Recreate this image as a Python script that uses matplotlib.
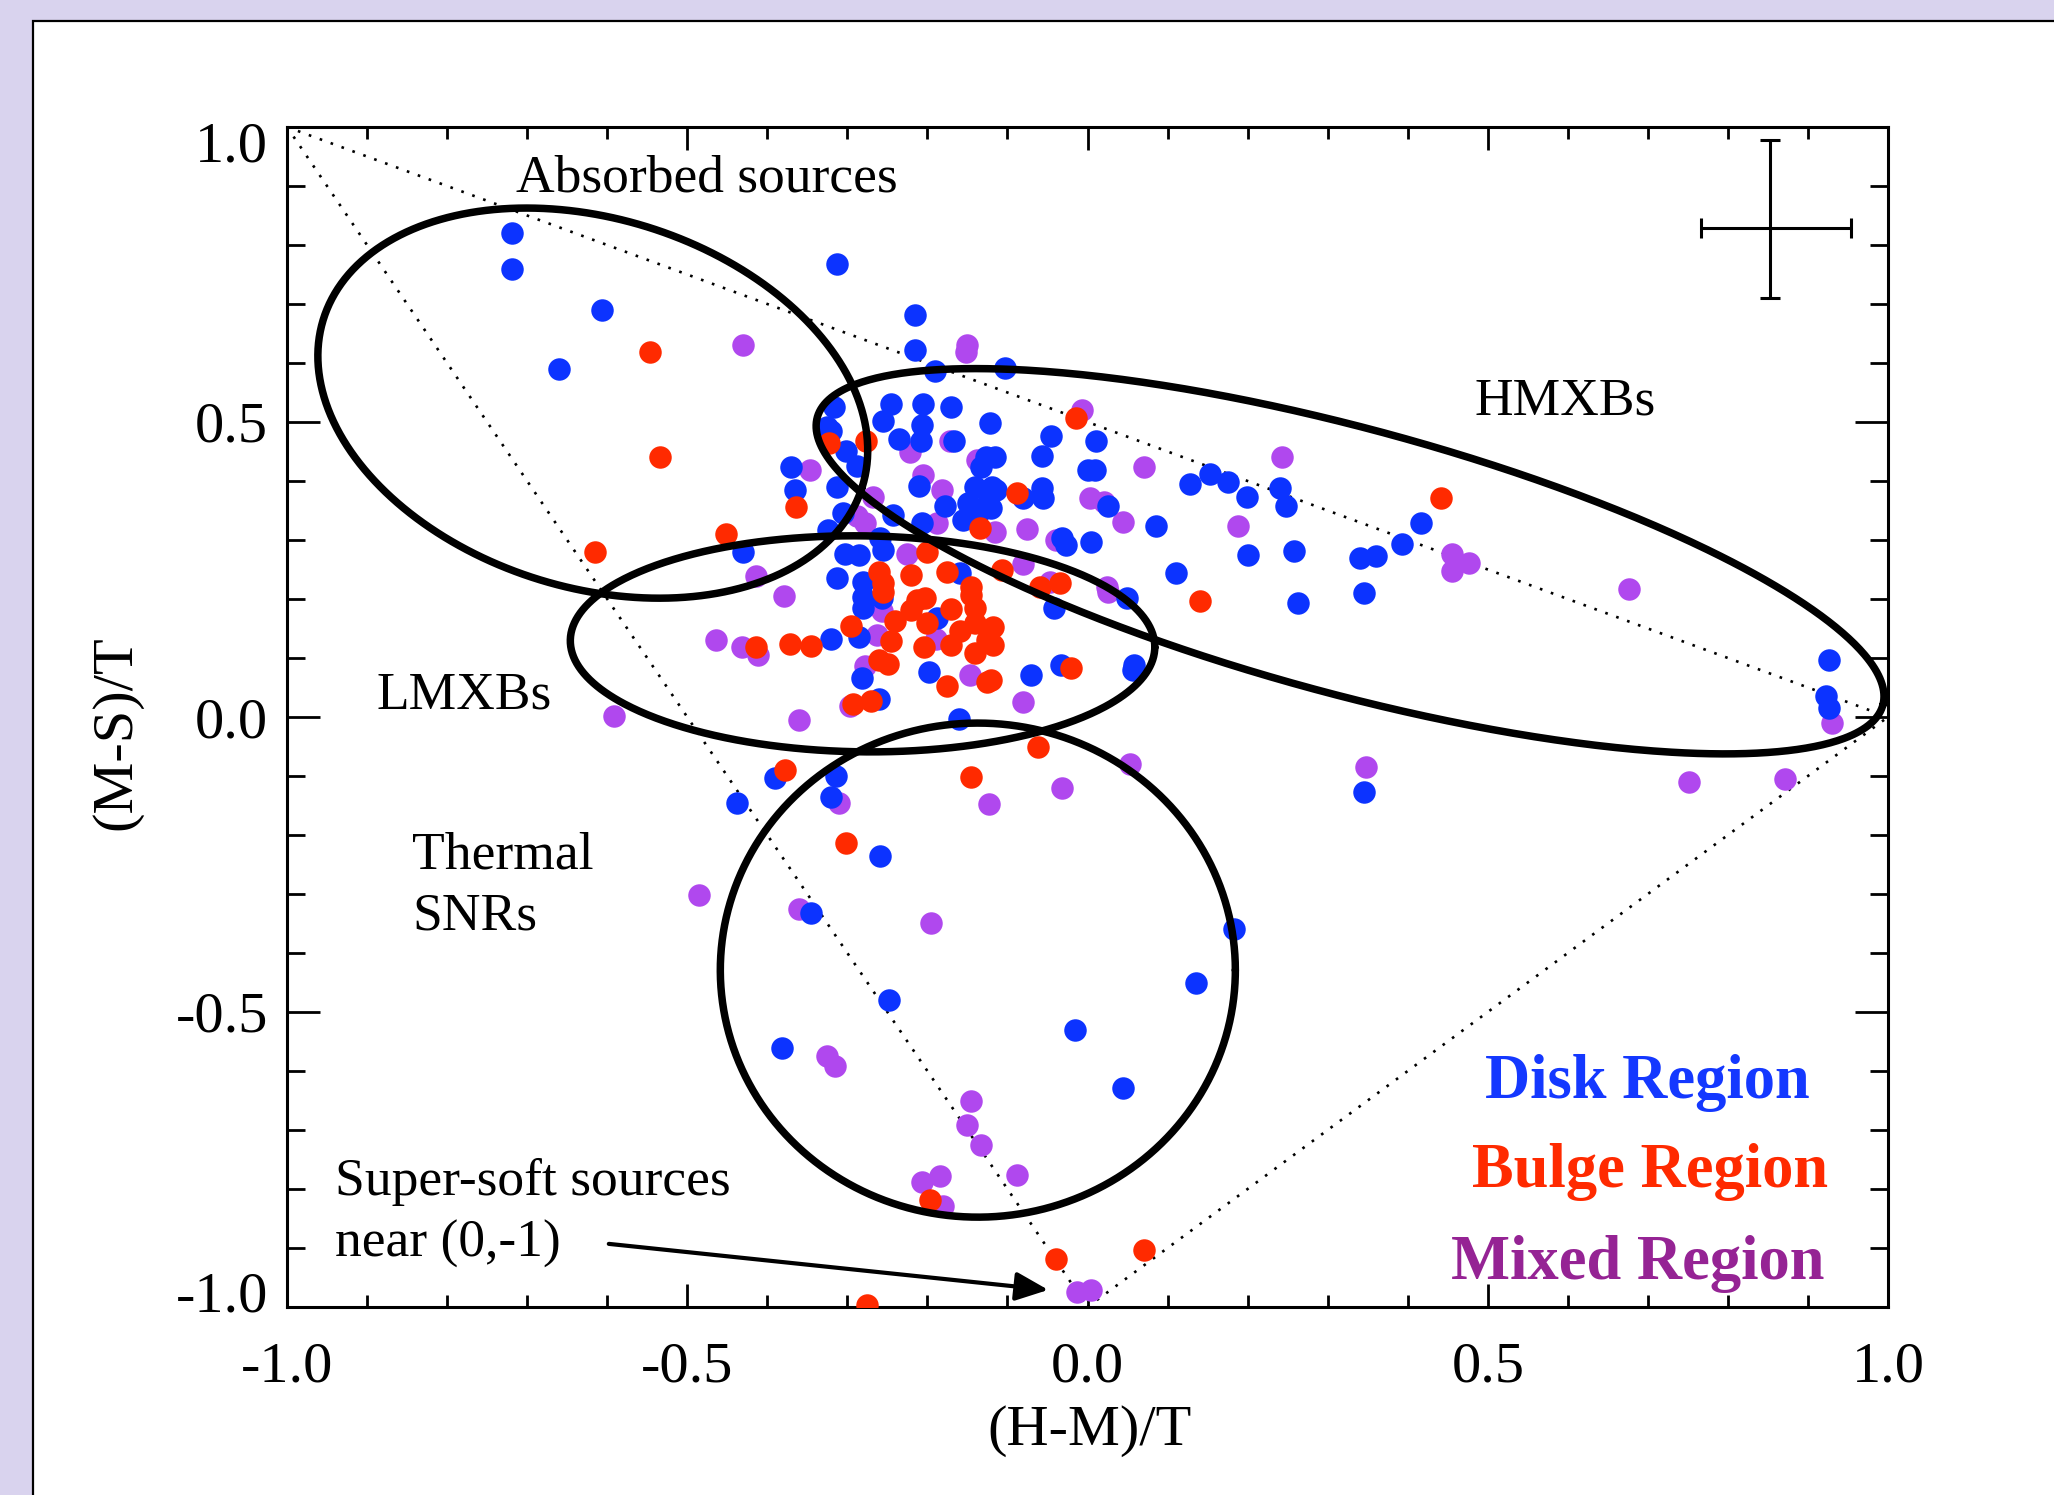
import numpy as np
import matplotlib
matplotlib.use("Agg")
import matplotlib.pyplot as plt
from matplotlib.patches import Rectangle
from matplotlib.transforms import ScaledTranslation

plt.rcParams['axes.unicode_minus'] = False
SERIF = ['Liberation Serif', 'DejaVu Serif']

# ---------------- data (hardness ratios) ----------------
disk_x = [-0.719, -0.719, -0.607, -0.660, -0.313, -0.215, -0.215, -0.190, -0.103, -0.317,
          -0.326, -0.320, -0.302, -0.288, -0.370, -0.366, -0.313, -0.245, -0.255, -0.206,
          -0.170, -0.207, -0.235, -0.208, -0.167, -0.122, -0.210, -0.178, -0.141, -0.119,
          -0.149, -0.124, -0.136, -0.155, -0.127, -0.116, -0.133, -0.305, -0.243, -0.207,
          -0.324, -0.430, -0.303, -0.286, -0.255, -0.259, -0.159, -0.313, -0.280, -0.046,
          0.011, -0.057, 0.001, 0.009, 0.128, 0.153, 0.176, 0.199, -0.057, -0.055,
          -0.080, -0.114, -0.120, 0.026, 0.085, -0.032, -0.027, 0.004, 0.201, 0.111,
          -0.280, -0.280, -0.257, -0.286, -0.320, -0.282, -0.261, -0.160, -0.391, -0.314,
          -0.438, -0.321, -0.259, -0.345, -0.248, -0.382, -0.015, 0.044, 0.136, 0.183,
          -0.188, -0.198, -0.042, -0.070, -0.033, 0.057, 0.058, 0.049, 0.263, 0.345,
          0.248, 0.240, 0.258, 0.341, 0.360, 0.393, 0.416, 0.345, 0.926, 0.923, 0.926]
disk_y = [0.820, 0.759, 0.689, 0.590, 0.767, 0.681, 0.622, 0.586, 0.591, 0.525,
          0.492, 0.484, 0.451, 0.425, 0.423, 0.385, 0.390, 0.531, 0.501, 0.531,
          0.526, 0.495, 0.471, 0.467, 0.467, 0.498, 0.392, 0.357, 0.390, 0.390,
          0.362, 0.365, 0.348, 0.334, 0.441, 0.441, 0.424, 0.345, 0.342, 0.328,
          0.317, 0.280, 0.277, 0.275, 0.283, 0.303, 0.244, 0.235, 0.229, 0.476,
          0.467, 0.442, 0.419, 0.419, 0.395, 0.412, 0.399, 0.373, 0.388, 0.372,
          0.371, 0.385, 0.354, 0.357, 0.324, 0.303, 0.292, 0.297, 0.275, 0.244,
          0.204, 0.184, 0.201, 0.136, 0.132, 0.066, 0.030, -0.004, -0.104, -0.100,
          -0.146, -0.136, -0.236, -0.332, -0.480, -0.561, -0.531, -0.629, -0.450, -0.359,
          0.167, 0.076, 0.184, 0.071, 0.088, 0.080, 0.088, 0.201, 0.193, 0.210,
          0.358, 0.388, 0.282, 0.269, 0.273, 0.293, 0.328, -0.127, 0.096, 0.035, 0.016]

bulge_x = [-0.546, -0.534, -0.615, -0.452, -0.364, -0.323, -0.277, -0.134, -0.014, -0.088,
           0.442, 0.141, -0.201, -0.176, -0.261, -0.220, -0.255, -0.145, -0.107, -0.059,
           -0.034, -0.255, -0.241, -0.296, -0.246, -0.345, -0.372, -0.414, -0.261, -0.249,
           -0.293, -0.271, -0.378, -0.146, -0.213, -0.203, -0.220, -0.201, -0.171, -0.145,
           -0.141, -0.141, -0.159, -0.204, -0.171, -0.141, -0.126, -0.176, -0.126, -0.118,
           -0.118, -0.120, -0.020, -0.062, -0.302, -0.197, -0.039, 0.071, -0.275]
bulge_y = [0.619, 0.440, 0.280, 0.311, 0.356, 0.465, 0.467, 0.320, 0.506, 0.379,
           0.372, 0.196, 0.280, 0.246, 0.246, 0.241, 0.227, 0.221, 0.250, 0.221,
           0.227, 0.212, 0.163, 0.154, 0.128, 0.120, 0.123, 0.118, 0.097, 0.090,
           0.022, 0.027, -0.089, -0.102, 0.198, 0.201, 0.181, 0.159, 0.183, 0.207,
           0.184, 0.160, 0.146, 0.118, 0.122, 0.109, 0.131, 0.053, 0.060, 0.153,
           0.122, 0.063, 0.083, -0.050, -0.214, -0.819, -0.919, -0.903, -0.996]

mixed_x = [-0.430, -0.151, -0.152, -0.007, 0.070, 0.243, 0.188, 0.455, 0.476, 0.455,
           0.676, 0.930, 0.751, 0.871, 0.348, 0.053, -0.032, -0.123, -0.310, -0.591,
           -0.360, -0.485, -0.361, -0.196, -0.325, -0.316, -0.146, -0.150, -0.133, -0.088,
           -0.184, -0.207, -0.181, -0.013, 0.004, -0.464, -0.432, -0.412, -0.414, -0.379,
           -0.347, -0.222, -0.172, -0.205, -0.182, -0.268, -0.278, -0.288, -0.226, -0.188,
           -0.138, 0.003, 0.020, 0.044, -0.075, -0.116, -0.039, -0.080, 0.024, -0.047,
           0.025, -0.257, -0.263, -0.278, -0.297, -0.189, -0.147, -0.081]
mixed_y = [0.631, 0.631, 0.618, 0.520, 0.424, 0.440, 0.324, 0.277, 0.261, 0.248,
           0.217, -0.011, -0.111, -0.105, -0.084, -0.079, -0.121, -0.147, -0.146, 0.002,
           -0.005, -0.301, -0.326, -0.349, -0.575, -0.592, -0.650, -0.692, -0.726, -0.776,
           -0.778, -0.788, -0.828, -0.975, -0.971, 0.131, 0.119, 0.105, 0.239, 0.205,
           0.418, 0.450, 0.467, 0.410, 0.385, 0.373, 0.328, 0.340, 0.277, 0.328,
           0.436, 0.371, 0.365, 0.331, 0.318, 0.314, 0.300, 0.259, 0.221, 0.229,
           0.212, 0.179, 0.139, 0.086, 0.018, 0.133, 0.071, 0.026]

# region outlines: centre (x, y), semi-axes (in x-data units), tilt (deg)
regions = {
    'absorbed': dict(cx=-0.618, cy=0.532, a=0.3525, b=0.2304, ang=-17.3),
    'hmxb':     dict(cx=0.328, cy=0.264, a=0.6894, b=0.1659, ang=-15.1),
    'lmxb':     dict(cx=-0.281, cy=0.124, a=0.3651, b=0.1349, ang=-0.7),
    'snr':      dict(cx=-0.137, cy=-0.429, a=0.3217, b=0.3086, ang=0.0),
}

# typical error bar: position and (lower, upper) errors
err_x, err_y = 0.852, 0.829
err_xlo, err_xhi = 0.086, 0.102
err_ylo, err_yhi = 0.119, 0.149

xticks = [-1.0, -0.5, 0.0, 0.5, 1.0]
yticks = [-1.0, -0.5, 0.0, 0.5, 1.0]
tick_labels = ['-1.0', '-0.5', '0.0', '0.5', '1.0']

# ---------------- figure ----------------
W, H = 2054, 1495
fig = plt.figure(figsize=(W / 100, H / 100), dpi=100)
fig.patch.set_facecolor('#d9d3ee')
panel = Rectangle((33 / W, -0.05), 1.2, 1.05 - 21 / H, transform=fig.transFigure,
                  facecolor='white', edgecolor='black', lw=1.6, zorder=-10)
fig.patches.append(panel)

L, R, T, B = 287, 1888, 127, 1307
ax = fig.add_axes([L / W, 1 - B / H, (R - L) / W, (B - T) / H])
ax.set_facecolor('none')
ax.set_xlim(-1, 1)
ax.set_ylim(-1, 1)
for s in ax.spines.values():
    s.set_linewidth(2.2)

ax.set_xticks(xticks)
ax.set_yticks(yticks)
ax.set_xticks(np.arange(-1, 1.001, 0.1), minor=True)
ax.set_yticks(np.arange(-1, 1.001, 0.1), minor=True)
ax.tick_params(which='both', direction='in', top=True, right=True,
               labelbottom=False, labelleft=False, width=2)
ax.tick_params(axis='x', which='major', length=16.5)
ax.tick_params(axis='x', which='minor', length=8.6)
ax.tick_params(axis='y', which='major', length=23.8)
ax.tick_params(axis='y', which='minor', length=13)

TFS = 42
# tick labels
for v, lab in zip(xticks, tick_labels):
    ax.text(v, 0, lab, transform=ax.get_xaxis_transform() +
            ScaledTranslation(0, -0.345, fig.dpi_scale_trans),
            ha='center', va='top', fontsize=TFS, family=SERIF)
for v, lab in zip(yticks, tick_labels):
    dy = 0.0
    if v == 1.0:
        dy = -0.15
    elif v == -1.0:
        dy = 0.16
    ax.text(0, v, lab, transform=ax.get_yaxis_transform() +
            ScaledTranslation(-0.19, dy, fig.dpi_scale_trans),
            ha='right', va='center_baseline', fontsize=TFS, family=SERIF)

fig.text(1089.5 / W, 1 - 1431 / H, '(H-M)/T', ha='center', va='center',
         fontsize=TFS, family=SERIF)
fig.text(116 / W, 1 - 733 / H, '(M-S)/T', ha='center', va='center', rotation=90,
         fontsize=TFS, family=SERIF)

# dotted boundary triangle
dot = dict(color='black', lw=1.9, linestyle=(0, (1, 3.4)), zorder=1)
ax.plot([-1, 1], [1, 0], **dot)
ax.plot([-1, 0], [1, -1], **dot)
ax.plot([0, 1], [-1, 0], **dot)

# points
ms = 262
ax.scatter(mixed_x, mixed_y, s=ms, color='#b048ee', linewidths=0, zorder=2)
ax.scatter(disk_x, disk_y, s=ms, color='#0c33ff', linewidths=0, zorder=3)
ax.scatter(bulge_x, bulge_y, s=ms, color='#ff2a00', linewidths=0, zorder=4)

# ellipses
pos = ax.get_position()
ratio = (pos.width * W / 2) / (pos.height * H / 2)
t = np.linspace(0, 2 * np.pi, 600)
for r in regions.values():
    th = np.radians(r['ang'])
    u = r['a'] * np.cos(t) * np.cos(th) - r['b'] * np.sin(t) * np.sin(th)
    v = r['a'] * np.cos(t) * np.sin(th) + r['b'] * np.sin(t) * np.cos(th)
    ax.plot(r['cx'] + u, r['cy'] + v * ratio, color='black', lw=5.4, zorder=6,
            solid_capstyle='round')

# typical error bar
ax.errorbar([err_x], [err_y], xerr=[[err_xlo], [err_xhi]], yerr=[[err_ylo], [err_yhi]],
            fmt='none', ecolor='black', elinewidth=2.2, capsize=7.2, capthick=2.2, zorder=7)

# labels
tkw = dict(fontsize=38.5, family=SERIF, zorder=8)
ax.text(-0.714, 0.890, 'Absorbed sources', ha='left', va='baseline', **tkw)
ax.text(0.484, 0.512, 'HMXBs', ha='left', va='baseline', **tkw)
ax.text(-0.888, 0.015, 'LMXBs', ha='left', va='baseline', **tkw)
ax.text(-0.844, -0.256, 'Thermal', ha='left', va='baseline', **tkw)
ax.text(-0.844, -0.361, 'SNRs', ha='left', va='baseline', **tkw)
ax.text(-0.940, -0.810, 'Super-soft sources', ha='left', va='baseline', **tkw)
ax.text(-0.940, -0.914, 'near (0,-1)', ha='left', va='baseline', **tkw)

ax.annotate('', xy=(-0.049, -0.971), xytext=(-0.598, -0.893),
            arrowprops=dict(arrowstyle='-|>,head_length=0.5,head_width=0.22',
                            color='black', lw=3, mutation_scale=40,
                            shrinkA=0, shrinkB=0), zorder=8)

lkw = dict(fontsize=45, family=SERIF, fontweight='bold', ha='center', va='baseline', zorder=8)
ax.text(0.700, -0.645, 'Disk Region', color='#1438ff', **lkw)
ax.text(0.703, -0.796, 'Bulge Region', color='#ff2a00', **lkw)
ax.text(0.688, -0.952, 'Mixed Region', color='#952394', **lkw)

fig.savefig('out.png', dpi=100, facecolor=fig.get_facecolor())
